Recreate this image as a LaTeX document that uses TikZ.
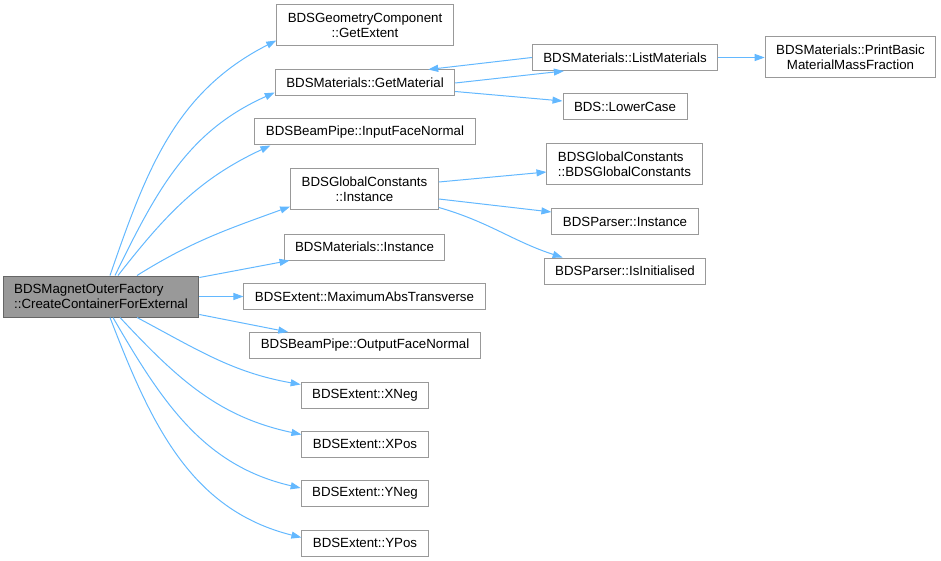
\documentclass[tikz,border=0pt]{standalone}
\usepackage{fontspec}
\setmainfont{Liberation Sans}
\usepackage{xcolor}
\usepackage{tikz}
\usetikzlibrary{arrows.meta}
\definecolor{edgeblue}{HTML}{63B8FF}
\definecolor{boxgrey}{HTML}{999999}
\definecolor{maingrey}{HTML}{999999}
\definecolor{mainline}{HTML}{666666}
\tikzstyle{func} = [rectangle, minimum height=26pt, inner xsep=11pt, inner ysep=2pt, align=center, draw=boxgrey, line width=1pt, fill=white, font=\fontsize{13.3}{15}\selectfont]
\tikzstyle{functwo} = [func, minimum height=41pt]
\tikzstyle{caller} = [functwo, align=left, draw=mainline, fill=maingrey]
\tikzstyle{arrow} = [draw=edgeblue, line width=1pt, -{Triangle[length=10pt,width=7pt]}]

\begin{document}
\begin{tikzpicture}[x=1pt, y=-1pt]
            \useasboundingbox (0,0) rectangle (941,561);
            \node (main) [caller] at (101,296.5) {BDSMagnetOuterFactory\\::CreateContainerForExternal};
            \node (getext) [functwo] at (365,25.5) {BDSGeometryComponent\\::GetExtent};
            \node (getmat) [func] at (365,83) {BDSMaterials::GetMaterial};
            \node (infn) [func] at (365,132) {BDSBeamPipe::InputFaceNormal};
            \node (gcinst) [functwo] at (364.5,189.5) {BDSGlobalConstants\\::Instance};
            \node (matinst) [func] at (364.5,247) {BDSMaterials::Instance};
            \node (maxabs) [func] at (364.5,296.5) {BDSExtent::MaximumAbsTransverse};
            \node (outfn) [func] at (365,345.5) {BDSBeamPipe::OutputFaceNormal};
            \node (xneg) [func] at (365,395) {BDSExtent::XNeg};
            \node (xpos) [func] at (365,444) {BDSExtent::XPos};
            \node (yneg) [func] at (365,493.5) {BDSExtent::YNeg};
            \node (ypos) [func] at (365,543) {BDSExtent::YPos};
            \node (listmat) [func] at (625,57.5) {BDSMaterials::ListMaterials};
            \node (lower) [func] at (625,107) {BDS::LowerCase};
            \node (print) [functwo] at (850.5,57.5) {BDSMaterials::PrintBasic\\MaterialMassFraction};
            \node (gcgc) [functwo, align=left] at (624.5,164.5) {BDSGlobalConstants\\::BDSGlobalConstants};
            \node (parinst) [func] at (625,221.5) {BDSParser::Instance};
            \node (isinit) [func] at (625,271) {BDSParser::IsInitialised};

            \draw [arrow] ([xshift=9pt]main.north) to[out=71, in=207] ([yshift=6pt]getext.south west);
            \draw [arrow] ([xshift=14pt]main.north) to[out=64, in=204] ([yshift=4pt]getmat.south west);
            \draw [arrow] ([xshift=17pt]main.north) to[out=52, in=205] ([xshift=16pt]infn.south west);
            \draw [arrow] ([xshift=36pt]main.north) to[out=32, in=200] ([yshift=4pt]gcinst.south west);
            \draw [arrow] ([yshift=-2pt]main.north east) -- ([xshift=6pt]matinst.south west);
            \draw [arrow] (main.east) -- (maxabs.west);
            \draw [arrow] ([yshift=3pt]main.south east) -- ([xshift=39pt]outfn.north west);
            \draw [arrow] ([xshift=36pt]main.south) to[out=-28, in=170] ([yshift=-3pt]xneg.north west);
            \draw [arrow] ([xshift=19pt]main.south) to[out=-47, in=168] ([yshift=-4pt]xpos.north west);
            \draw [arrow] ([xshift=12pt]main.south) to[out=-60, in=167] ([yshift=-8pt]yneg.north west);
            \draw [arrow] ([xshift=9pt]main.south) to[out=-69, in=166] ([yshift=-8pt]ypos.north west);
            \draw [arrow] (getmat.east) -- ([xshift=32pt]listmat.south west);
            \draw [arrow] (listmat.west) -- ([xshift=-27pt]getmat.north east);
            \draw [arrow] ([yshift=5pt]getmat.south east) -- ([yshift=6pt]lower.west);
            \draw [arrow] (listmat.east) -- (print.west);
            \draw [arrow] ([yshift=7.5pt]gcinst.east) -- ([yshift=-7.5pt]gcgc.west);
            \draw [arrow] ([yshift=-9.5pt]gcinst.east) -- ([yshift=9.5pt]parinst.west);
            \draw [arrow] ([yshift=3pt]gcinst.south east) to[out=-16, in=162] ([xshift=19pt]isinit.north west);
        \end{tikzpicture}
\end{document}
